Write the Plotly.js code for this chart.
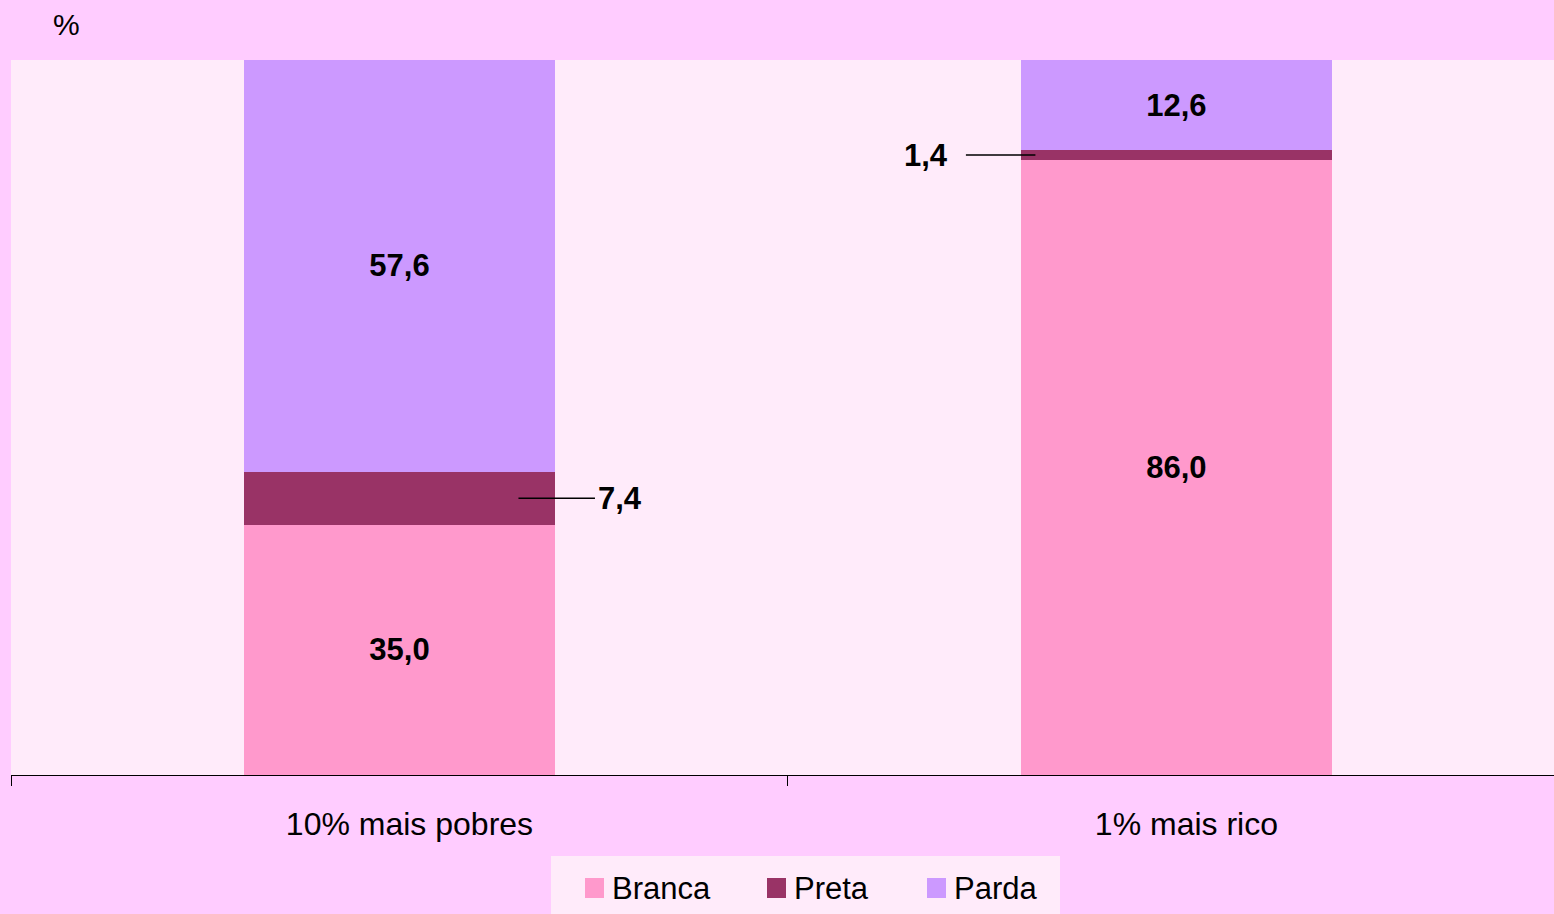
<!DOCTYPE html>
<html>
<head>
<meta charset="utf-8">
<script src="https://cdn.plot.ly/plotly-3.0.1.min.js"></script>
<style>html,body{margin:0;padding:0;background:#FFCCFF;overflow:hidden;}</style>
</head>
<body>
<div id="chart" style="width:1554px;height:914px;"></div>
<script>
const categories = ["10% mais pobres", "1% mais rico"];
const seriesNames = ["Branca", "Preta", "Parda"];
const branca = [35.0, 86.0];
const preta = [7.4, 1.4];
const parda = [57.6, 12.6];
const colors = ["#FF99CC", "#993366", "#CC99FF"];

const FONT = "Liberation Sans, Arial, sans-serif";
const fmt = v => v.toFixed(1).replace(".", ",");
const allSeries = [branca, preta, parda];

const traces = allSeries.map((vals, i) => ({
  type: "bar",
  name: seriesNames[i],
  x: categories,
  y: vals,
  width: 0.4,
  marker: {color: colors[i], line: {width: 0}},
  text: vals.map(v => i === 1 ? "" : fmt(v)),
  textposition: "inside",
  insidetextanchor: "middle",
  textangle: 0,
  textfont: {family: FONT, size: 31, color: "#000", weight: "bold"},
  hoverinfo: "skip",
  showlegend: false
}));

// pixel -> paper helpers for non-data decorations
const W0 = 11, PW = 1543, Y0 = 775, PH = 715;
const px = p => (p - W0) / PW;
const py = p => (Y0 - p) / PH;

const annFont = {family: FONT, size: 31, color: "#000", weight: "bold"};
const annotations = [
  {
    x: categories[0], y: branca[0] + preta[0] / 2, xref: "x", yref: "y",
    text: "<b>" + fmt(preta[0]) + "</b>", font: annFont,
    showarrow: true, arrowhead: 0, arrowwidth: 1.5, arrowcolor: "#000",
    xshift: 119, ax: 102, ay: 0, standoff: 0, startstandoff: 2
  },
  {
    x: categories[1], y: branca[1] + preta[1] / 2, xref: "x", yref: "y",
    text: "<b>" + fmt(preta[1]) + "</b>", font: annFont,
    showarrow: true, arrowhead: 0, arrowwidth: 1.5, arrowcolor: "#000",
    xshift: -141, ax: -109, ay: 0, standoff: 0, startstandoff: 16
  },
  {
    x: px(66), y: py(24), xref: "paper", yref: "paper", text: "%",
    xanchor: "center", yanchor: "middle",
    showarrow: false, font: {family: FONT, size: 30, color: "#000"}
  }
];

// custom legend
const shapes = [
  {type: "rect", xref: "paper", yref: "paper", x0: px(551), x1: px(1060), y0: py(856), y1: py(920),
   fillcolor: "#FFEBFA", line: {width: 0}, layer: "below"}
];
const legendSquareX = [585, 767, 927];
seriesNames.forEach((n, i) => {
  shapes.push({type: "rect", xref: "paper", yref: "paper",
    x0: px(legendSquareX[i]), x1: px(legendSquareX[i] + 19), y0: py(898), y1: py(878),
    fillcolor: colors[i], line: {width: 0}});
  annotations.push({x: px(legendSquareX[i] + 25), y: py(888), xref: "paper", yref: "paper",
    xanchor: "left", yanchor: "middle", text: n, showarrow: false,
    font: {family: FONT, size: 31, color: "#000"}});
});

const layout = {
  width: 1554, height: 914,
  paper_bgcolor: "#FFCCFF",
  plot_bgcolor: "#FFEBFA",
  margin: {l: 11, r: 0, t: 60, b: 139, pad: 0},
  barmode: "stack",
  showlegend: false,
  xaxis: {
    type: "category", range: [-0.5, 1.486], fixedrange: true,
    showline: true, linecolor: "#000", linewidth: 1,
    ticks: "outside", tickson: "boundaries", ticklen: 10, tickcolor: "#000", tickwidth: 1,
    showgrid: false, zeroline: false,
    tickfont: {family: FONT, size: 32, color: "#000"},
    ticklabelstandoff: 21, ticklabelshift: 10
  },
  yaxis: {
    range: [0, 100], showticklabels: false, showgrid: false, zeroline: false,
    showline: false, ticks: "", fixedrange: true
  },
  shapes: shapes,
  annotations: annotations,
  font: {family: FONT}
};

Plotly.newPlot("chart", traces, layout, {displayModeBar: false, staticPlot: true});
</script>
</body>
</html>
